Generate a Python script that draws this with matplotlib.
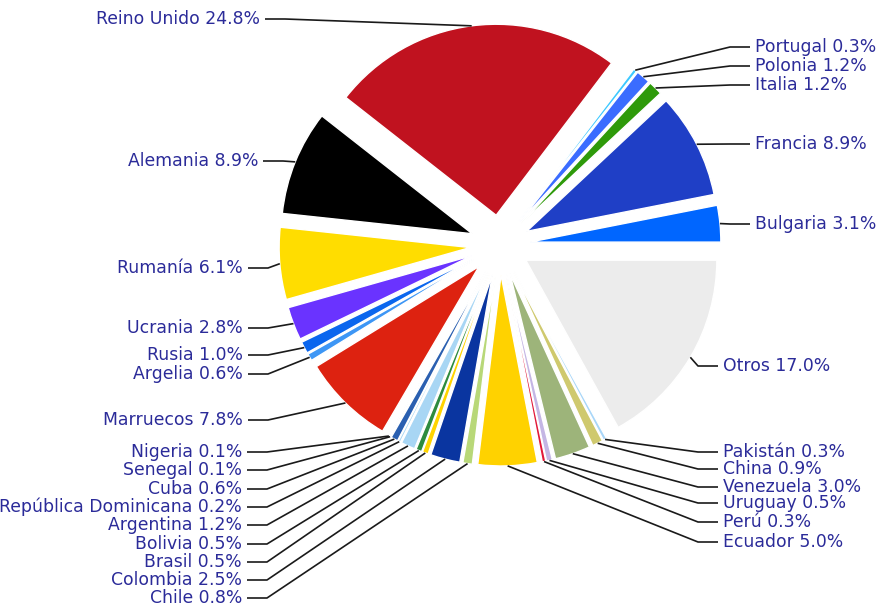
import numpy as np
import matplotlib
matplotlib.use('Agg')
import matplotlib.pyplot as plt

# datos (porcentajes por país, en orden antihorario desde las 3 en punto)
paises = ['Bulgaria', 'Francia', 'Italia', 'Polonia', 'Portugal', 'Reino Unido',
          'Alemania', 'Rumanía', 'Ucrania', 'Rusia', 'Argelia', 'Marruecos',
          'Nigeria', 'Senegal', 'Cuba', 'República Dominicana', 'Argentina',
          'Bolivia', 'Brasil', 'Colombia', 'Chile', 'Ecuador', 'Perú',
          'Uruguay', 'Venezuela', 'China', 'Pakistán', 'Otros']
porcentajes = [3.1, 8.9, 1.2, 1.2, 0.3, 24.8,
               8.9, 6.1, 2.8, 1.0, 0.6, 7.8,
               0.1, 0.1, 0.6, 0.2, 1.2,
               0.5, 0.5, 2.5, 0.8, 5.0, 0.3,
               0.5, 3.0, 0.9, 0.3, 17.0]

colores = ['#0066ff', '#1f3fc6', '#2e9a0a', '#3a6cff', '#3cc8ff', '#c0121f',
           '#000000', '#ffdd00', '#6a33ff', '#0a66ee', '#3d96f5', '#dd2210',
           '#7f8fa0', '#1c4a8e', '#2a5fb0', '#a8d6f4', '#a8d6f4',
           '#2e8b3e', '#ffd400', '#0a35a0', '#b8d878', '#ffd200', '#e21a3a',
           '#c4b6e4', '#9db47a', '#cfc96e', '#a8d6f8', '#ececec']

# posición de las etiquetas en píxeles (x del borde del texto, y del centro)
etiquetas_pos = {
    'Bulgaria': (755, 224), 'Francia': (755, 144), 'Italia': (755, 85),
    'Polonia': (755, 66), 'Portugal': (755, 47), 'Reino Unido': (260, 19),
    'Alemania': (258, 161), 'Rumanía': (243, 268), 'Ucrania': (243, 328),
    'Rusia': (243, 355), 'Argelia': (243, 374), 'Marruecos': (243, 420),
    'Nigeria': (242, 452), 'Senegal': (242, 470), 'Cuba': (242, 489),
    'República Dominicana': (242, 507), 'Argentina': (242, 525),
    'Bolivia': (242, 544), 'Brasil': (242, 562), 'Colombia': (242, 580),
    'Chile': (242, 598), 'Ecuador': (723, 542), 'Perú': (723, 522),
    'Uruguay': (723, 503), 'Venezuela': (723, 487), 'China': (723, 469),
    'Pakistán': (723, 452), 'Otros': (723, 366),
}

W, H = 876, 605
CX, CY, R = 500, 245, 191  # centro y radio del pastel en píxeles


def px(x, y):
    """píxeles (origen arriba a la izquierda) -> coordenadas de datos"""
    return (x - CX) / R, (CY - y) / R


fig = plt.figure(figsize=(W / 100, H / 100), dpi=100, facecolor='white')
ax = fig.add_axes([0, 0, 1, 1])

wedges, _ = ax.pie(porcentajes, colors=colores, startangle=0, counterclock=True,
                   explode=[0.157] * len(porcentajes), radius=1,
                   wedgeprops=dict(edgecolor='white', linewidth=1.0))

ax.set_xlim(-CX / R, (W - CX) / R)
ax.set_ylim(-(H - CY) / R, CY / R)
ax.set_aspect('auto')
ax.axis('off')

texto_color = '#2b2b99'
for w, nombre, val in zip(wedges, paises, porcentajes):
    ang = np.deg2rad((w.theta1 + w.theta2) / 2)
    cx, cy = w.center
    punta = (cx + w.r * np.cos(ang), cy + w.r * np.sin(ang))
    lx, ly = etiquetas_pos[nombre]
    if lx < CX:
        x0, _ = px(lx + 5, ly)
        x1, _ = px(lx + 25, ly)
        ha = 'right'
    else:
        x0, _ = px(lx - 5, ly)
        x1, _ = px(lx - 25, ly)
        ha = 'left'
    _, y0 = px(lx, ly)
    ax.plot([punta[0], x1, x0], [punta[1], y0, y0], color='#1a1a1a', lw=1.2,
            solid_capstyle='butt', zorder=1)
    tx, ty = px(lx, ly)
    ax.text(tx, ty, f'{nombre} {val:.1f}%', ha=ha, va='center', fontsize=12.4,
            color=texto_color, family='DejaVu Sans')

fig.savefig('out.png', dpi=100, facecolor='white')
